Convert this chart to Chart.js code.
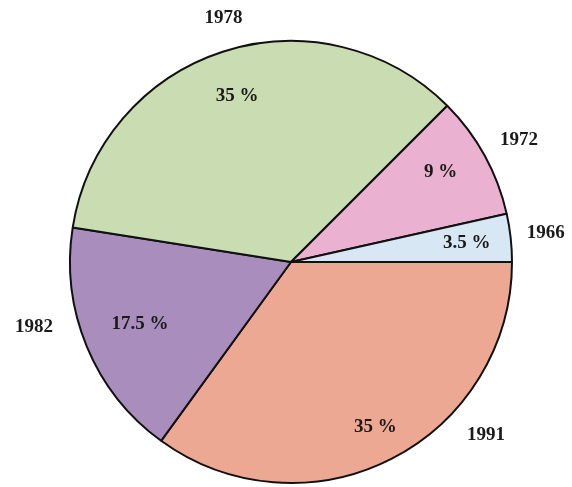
<!DOCTYPE html>
<html>
<head>
<meta charset="utf-8">
<script src="https://cdn.jsdelivr.net/npm/chart.js@4/dist/chart.umd.min.js"></script>
<style>
  html, body { margin: 0; padding: 0; background: #fff; }
  #wrap { width: 572px; height: 487px; }
</style>
</head>
<body>
<div id="wrap"><canvas id="c"></canvas></div>
<script>
// slices listed clockwise from 3 o'clock
var years = ["1991", "1982", "1978", "1972", "1966"];
var shares = [35, 17.5, 35, 9, 3.5];
var pctLabels = ["35 %", "17.5 %", "35 %", "9 %", "3.5 %"];

var colors = ["#eda893", "#a98dbd", "#cadcb1", "#ebb1d1", "#d7e8f4"];

// label placement: fraction of the slice's angle (0 = start, 1 = end) and radius multiple
var yearAngleFrac = [0.33, 0.63, 0.52, 0.52, 0.48];
var yearRadius = [1.18, 1.2, 1.145, 1.17, 1.16];
var pctAngleFrac = [0.5, 0.5, 0.5, 0.43, 0.5];
var pctRadius = [0.84, 0.74, 0.79, 0.79, 0.8];

var pieLabels = {
    id: "pieLabels",
    afterDatasetsDraw: function(chart) {
        var ctx = chart.ctx;
        var meta = chart.getDatasetMeta(0);
        ctx.save();
        ctx.fillStyle = "#1a1a1a";
        ctx.font = "bold 19px 'Liberation Serif', 'DejaVu Serif', serif";
        ctx.textAlign = "center";
        ctx.textBaseline = "middle";
        meta.data.forEach(function(arc, i) {
            var p = arc.getProps(["x", "y", "startAngle", "endAngle", "outerRadius"], true);
            var span = p.endAngle - p.startAngle;
            var a1 = p.startAngle + span * pctAngleFrac[i];
            var r = p.outerRadius * pctRadius[i];
            ctx.fillText(pctLabels[i], p.x + Math.cos(a1) * r, p.y + Math.sin(a1) * r);

            var a2 = p.startAngle + span * yearAngleFrac[i];
            var ro = p.outerRadius * yearRadius[i];
            ctx.fillText(years[i], p.x + Math.cos(a2) * ro, p.y + Math.sin(a2) * ro);
        });
        ctx.restore();
    }
};

new Chart(document.getElementById("c"), {
    type: "pie",
    data: {
        labels: years,
        datasets: [{
            data: shares,
            backgroundColor: colors,
            borderColor: "#111",
            borderWidth: 2,
            borderAlign: "center"
        }]
    },
    options: {
        responsive: true,
        maintainAspectRatio: false,
        animation: false,
        rotation: 90,
        layout: { padding: { left: 69, right: 59, top: 39, bottom: 2 } },
        plugins: {
            legend: { display: false },
            tooltip: { enabled: false }
        }
    },
    plugins: [pieLabels]
});
</script>
</body>
</html>
